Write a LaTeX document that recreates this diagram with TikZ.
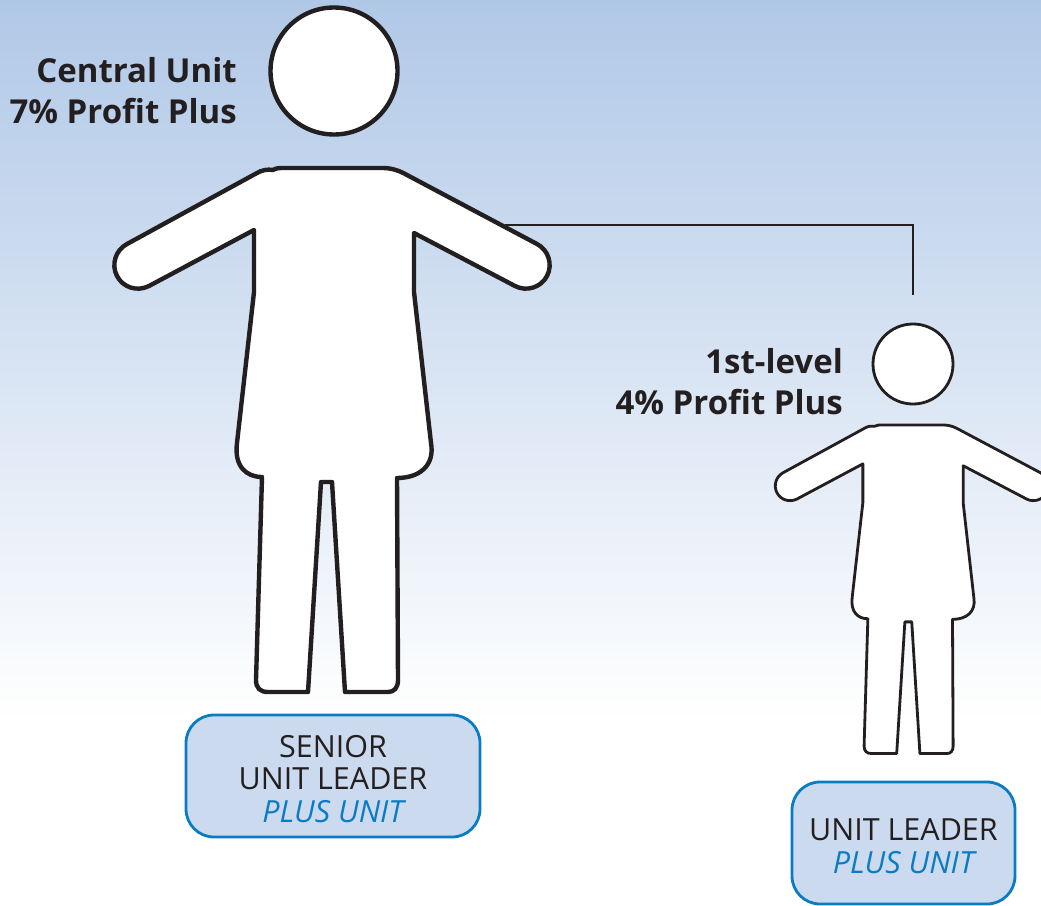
\documentclass[tikz,border=0pt]{standalone}
\usepackage{fontspec}
\setmainfont{Open Sans}
\definecolor{skytop}{RGB}{176,200,231}
\definecolor{inkline}{RGB}{35,31,32}
\definecolor{boxfill}{RGB}{203,218,238}
\definecolor{boxblue}{RGB}{10,124,193}
\tikzset{
  headnode/.style={circle,draw=inkline,fill=white,inner sep=0pt},
  ranklabel/.style={anchor=east,align=right,text=inkline,inner sep=0pt,font=\fontsize{33}{41}\selectfont\bfseries},
  leaderbox/.style={draw=boxblue,line width=2.8pt,fill=boxfill,rounded corners=28pt,inner sep=0pt},
  boxtext/.style={align=center,text=inkline,inner sep=0pt,font=\fontsize{30.5}{32.5}\selectfont},
  linkline/.style={draw=inkline,line width=2.4pt},
  pics/person/.style={code={
    \draw[draw=inkline,fill=white,line join=round,line width=#1]
      (-61,2) .. controls (-58,0) and (-54,0) .. (-51,0) -- (49,0)
      .. controls (58,0) and (66,3) .. (73,7) -- (203,76)
      .. controls (214.5,82) and (219,96.5) .. (213,108)
      .. controls (207,119.5) and (192.5,124) .. (181,118)
      -- (80,65) -- (80,124) -- (97,275)
      .. controls (101,298) and (85,310) .. (63,310)
      -- (64,512) .. controls (64,520) and (60,524) .. (54,524)
      -- (11,524) -- (-2,314) -- (-13,314) -- (-26,524) -- (-66,524)
      .. controls (-74,524) and (-78,520) .. (-78,512)
      -- (-72,309) .. controls (-88,309) and (-100,298) .. (-97,275)
      -- (-80,124) -- (-80,62) -- (-185,118)
      .. controls (-197,124) and (-211,119.5) .. (-217,108)
      .. controls (-223,96.5) and (-218.5,82) .. (-207,76)
      -- (-77,5) .. controls (-72,2) and (-66,1) .. (-61,2) -- cycle;
  }}
}
\newcommand{\plusunit}{\textcolor{boxblue}{\itshape PLUS UNIT}}
\begin{document}
\begin{tikzpicture}[x=1pt,y=-1pt]
  \useasboundingbox (0,0) rectangle (1041,905);
  \clip (0,0) rectangle (1041,905);
  \shade[top color=skytop,bottom color=white] (0,0) rectangle (1041,720);
  % connector goes under the big figure
  \coordinate (bigarm) at (505,225);
  \coordinate (drop) at (913,295);
  \draw[linkline] (bigarm) -| (drop);
  % big figure
  \node[headnode,minimum size=127pt,line width=4.4pt] (bighead) at (334,71) {};
  \pic at (334,168) {person=4.4pt};
  \node[ranklabel] (bigrank) at (237,91) {Central Unit\\7\% Profit Plus};
  \node[leaderbox,minimum width=294pt,minimum height=122pt] (seniorbox) at (333,776) {};
  \node[boxtext] (seniortext) at (333,779) {SENIOR\\UNIT LEADER\\\plusunit};
  % small figure
  \node[headnode,minimum size=80pt,line width=2.8pt] (smallhead) at (913,364) {};
  \pic[scale=.627] at (913,425) {person=2.8pt};
  \node[ranklabel] (smallrank) at (843,382) {1st-level\\4\% Profit Plus};
  \node[leaderbox,minimum width=223pt,minimum height=122pt] (unitbox) at (903.5,843) {};
  \node[boxtext] (unittext) at (903.5,846) {UNIT LEADER\\\plusunit};
\end{tikzpicture}
\end{document}
